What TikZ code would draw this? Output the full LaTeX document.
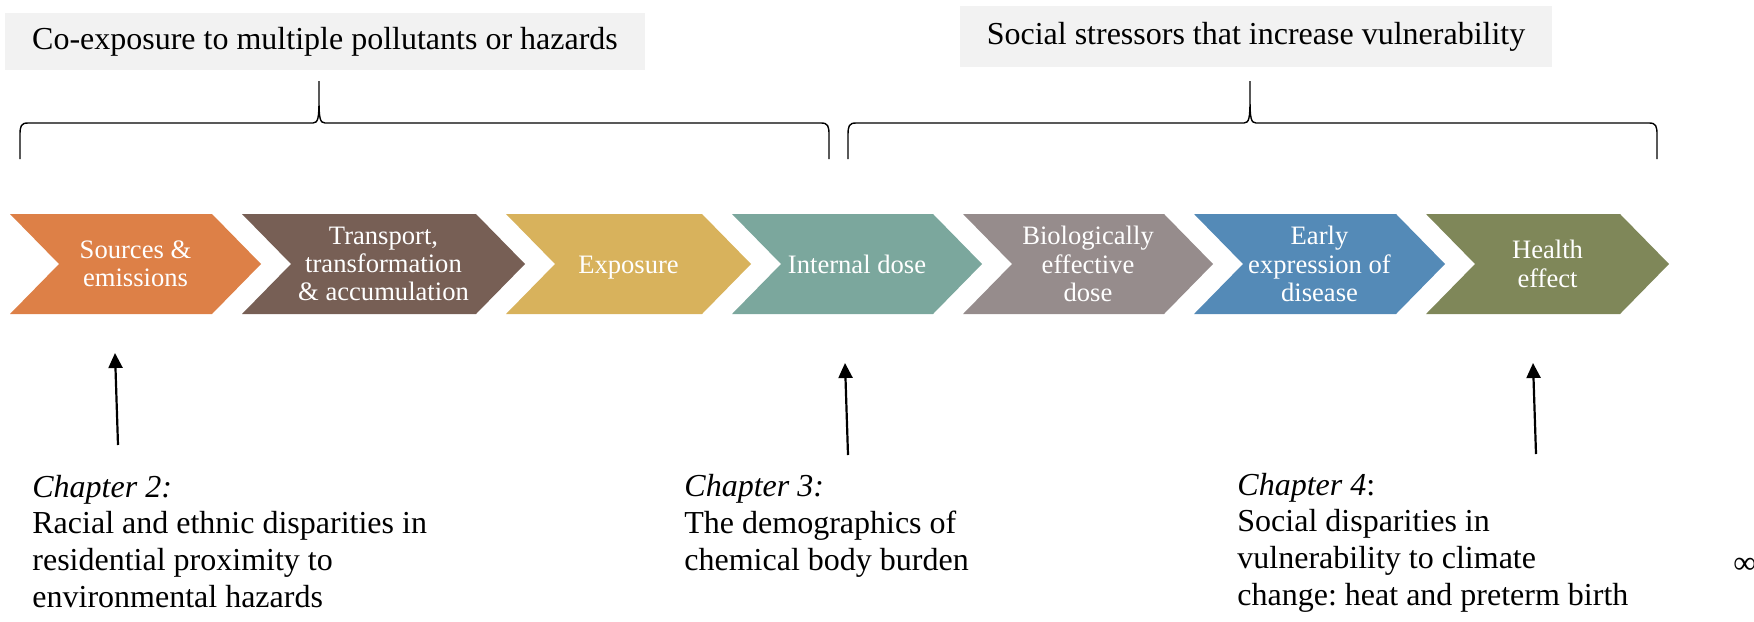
\documentclass[tikz,border=0pt]{standalone}
\usepackage{fontspec}
\setmainfont{Liberation Serif}
\usetikzlibrary{arrows.meta}
\frenchspacing
\definecolor{cOrange}{HTML}{DD8047}
\definecolor{cBrown}{HTML}{775F55}
\definecolor{cGold}{HTML}{D8B25C}
\definecolor{cTeal}{HTML}{7BA79D}
\definecolor{cMauve}{HTML}{968C8C}
\definecolor{cBlue}{HTML}{548AB7}
\definecolor{cOlive}{HTML}{7F8759}
\definecolor{cBox}{HTML}{F2F2F2}
\newcommand\mychev[6][264]{%
  \fill[#4] (#2,214) -- ({#3-49},214) -- (#3,264) -- ({#3-49},314) -- (#2,314) -- ({#2+49},264) -- cycle;
  \node[chevtext] (#5) at ({(#2+#3)/2},#1) {#6};
}
\begin{document}
\begin{tikzpicture}[x=0.5pt,y=-0.5pt,
  chevtext/.style={text=white,align=center,inner sep=0pt,font=\fontsize{13.3}{14.2}\selectfont},
  topbox/.style={fill=cBox,inner sep=0pt,font=\fontsize{16}{19}\selectfont},
  chaptext/.style={align=left,inner sep=0pt,anchor=base west,font=\fontsize{16}{18.3}\selectfont},
  bracepath/.style={line width=0.7pt},
  arr/.style={line width=1.1pt,-{Triangle[length=7.5pt,width=7pt]}}]
\useasboundingbox (0,0) rectangle (1754,621);
% top boxes
\node[topbox,minimum width=320pt,minimum height=28.5pt] (coexp) at (325,41.5) {Co-exposure to multiple pollutants or hazards};
\node[topbox,minimum width=296pt,minimum height=30.5pt] (social) at (1256,36.5) {Social stressors that increase vulnerability};
% braces
\draw[bracepath] (20,159) -- (20,135) .. controls (20,126) and (21,123) .. (28,123) -- (313,123)
  .. controls (318,123) and (319,118) .. (319,100) -- (319,81)
  (319,100) .. controls (319,118) and (320,123) .. (325,123) -- (821,123)
  .. controls (828,123) and (829,126) .. (829,135) -- (829,159);
\draw[bracepath] (848,159) -- (848,135) .. controls (848,126) and (849,123) .. (856,123) -- (1244,123)
  .. controls (1249,123) and (1250,118) .. (1250,100) -- (1250,81)
  (1250,100) .. controls (1250,118) and (1251,123) .. (1256,123) -- (1649,123)
  .. controls (1656,123) and (1657,126) .. (1657,135) -- (1657,159);
% chevrons
\mychev{10}{261}{cOrange}{src}{Sources \&\\emissions}
\mychev{242}{525}{cBrown}{trans}{Transport,\\transformation\\\& accumulation}
\mychev[268]{506}{751}{cGold}{expo}{Exposure}
\mychev{732}{982}{cTeal}{intdose}{Internal dose}
\mychev{963}{1213}{cMauve}{biodose}{Biologically\\effective\\dose}
\mychev{1194}{1445}{cBlue}{early}{Early\\expression of\\disease}
\mychev{1426}{1669}{cOlive}{health}{Health\\effect}
% arrows
\coordinate (a2s) at (118,445); \coordinate (a2e) at (115,353);
\coordinate (a3s) at (848,455); \coordinate (a3e) at (845,363);
\coordinate (a4s) at (1536,454); \coordinate (a4e) at (1533,363);
\draw[arr] (a2s) -- (a2e);
\draw[arr] (a3s) -- (a3e);
\draw[arr] (a4s) -- (a4e);
% chapter texts (base = baseline of last line)
\node[chaptext] (ch2) at (32,607) {\textit{Chapter 2:}\\Racial and ethnic disparities in\\residential proximity to\\environmental hazards};
\node[chaptext] (ch3) at (684,570) {\textit{Chapter 3:}\\The demographics of\\chemical body burden};
\node[chaptext] (ch4) at (1237,605) {\textit{Chapter 4}:\\Social disparities in\\vulnerability to climate\\change: heat and preterm birth};
\node[inner sep=0pt,anchor=base west,font=\fontsize{16}{19}\selectfont] (inf) at (1733,573) {∞};
\end{tikzpicture}
\end{document}
